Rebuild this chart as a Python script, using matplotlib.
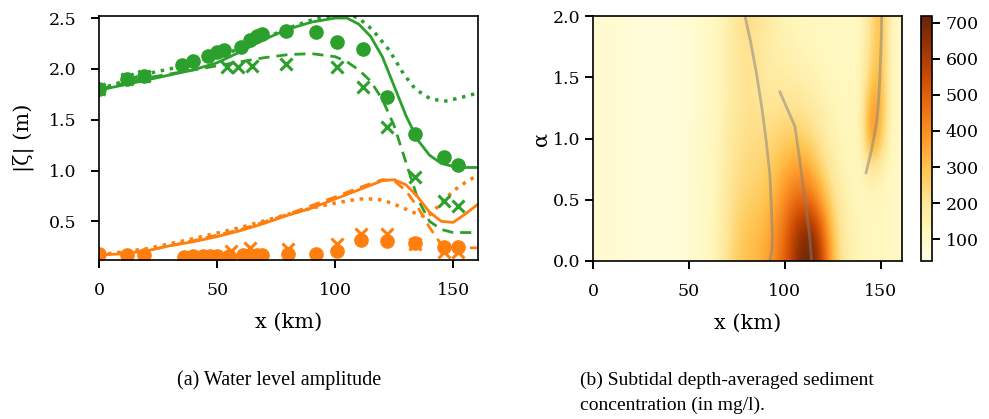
import numpy as np
import matplotlib
matplotlib.use('Agg')
import matplotlib.pyplot as plt

plt.rcParams['font.family'] = 'DejaVu Serif'
plt.rcParams['mathtext.fontset'] = 'dejavuserif'

green = '#2ca02c'
orange = '#ff7f0e'

# ---- panel (a): water level amplitude ----
# model curves
x_green_solid = [0, 20, 40, 50, 60, 70, 80, 90, 100, 105, 110, 115, 120, 125, 130, 135, 140, 145, 150, 155, 160]
y_green_solid = [1.79, 1.89, 1.99, 2.06, 2.17, 2.29, 2.39, 2.46, 2.50, 2.50, 2.44, 2.32, 2.12, 1.83, 1.54, 1.30, 1.15, 1.07, 1.04, 1.03, 1.03]

x_green_dash = [0, 20, 40, 50, 60, 70, 80, 90, 100, 105, 110, 115, 120, 125, 130, 135, 140, 145, 150, 160]
y_green_dash = [1.80, 1.91, 1.99, 2.03, 2.07, 2.11, 2.14, 2.15, 2.12, 2.07, 1.99, 1.88, 1.70, 1.44, 1.08, 0.72, 0.50, 0.42, 0.39, 0.39]

x_green_dot = [0, 20, 40, 60, 80, 90, 100, 105, 110, 116, 123, 129, 134, 140, 146, 152, 160]
y_green_dot = [1.80, 1.95, 2.05, 2.20, 2.40, 2.48, 2.53, 2.54, 2.50, 2.38, 2.18, 1.95, 1.80, 1.71, 1.68, 1.71, 1.76]

x_orange_solid = [0, 10, 20, 30, 40, 50, 60, 70, 80, 90, 100, 110, 120, 125, 130, 135, 140, 145, 150, 155, 160]
y_orange_solid = [0.17, 0.18, 0.21, 0.26, 0.30, 0.35, 0.41, 0.48, 0.56, 0.63, 0.72, 0.81, 0.90, 0.91, 0.86, 0.74, 0.59, 0.50, 0.49, 0.57, 0.66]

x_orange_dash = [0, 20, 40, 60, 80, 100, 110, 120, 125, 130, 135, 140, 145, 150, 160]
y_orange_dash = [0.17, 0.21, 0.31, 0.42, 0.57, 0.74, 0.83, 0.91, 0.90, 0.80, 0.64, 0.44, 0.27, 0.24, 0.24]

x_orange_dot = [0, 20, 40, 60, 80, 90, 100, 110, 115, 120, 125, 130, 135, 139, 145, 150, 155, 160]
y_orange_dot = [0.17, 0.23, 0.33, 0.44, 0.57, 0.63, 0.68, 0.72, 0.72, 0.71, 0.67, 0.62, 0.57, 0.54, 0.68, 0.80, 0.88, 0.95]

# observations
x_green_obs = [0, 12, 19, 35, 40, 46, 50, 53, 60, 64, 67, 69, 79, 92, 101, 112, 122, 134, 146, 152]
y_green_obs = [1.80, 1.90, 1.93, 2.04, 2.08, 2.13, 2.17, 2.19, 2.22, 2.28, 2.32, 2.34, 2.37, 2.36, 2.26, 2.20, 1.72, 1.36, 1.13, 1.05]
x_green_x = [0, 12, 19, 54, 59, 65, 79, 101, 112, 122, 134, 146, 152]
y_green_x = [1.80, 1.90, 1.93, 2.02, 2.02, 2.03, 2.05, 2.02, 1.82, 1.43, 0.94, 0.70, 0.65]

x_orange_obs = [0, 12, 19, 36, 40, 44, 47, 50, 55, 61, 64, 67, 69, 80, 92, 101, 111, 122, 134, 146, 152]
y_orange_obs = [0.18, 0.17, 0.17, 0.15, 0.16, 0.16, 0.16, 0.16, 0.16, 0.17, 0.17, 0.17, 0.17, 0.18, 0.18, 0.21, 0.32, 0.31, 0.29, 0.25, 0.25]
x_orange_x = [56, 64, 80, 101, 111, 122, 134, 146, 152]
y_orange_x = [0.21, 0.24, 0.23, 0.28, 0.38, 0.38, 0.28, 0.20, 0.20]

# ---- panel (b): sediment concentration (mg/l) ----
x_grid = list(range(0, 161, 5))
alpha_grid = [0.0, 0.25, 0.5, 0.75, 1.0, 1.25, 1.5, 1.75, 2.0]
conc = [
    [85, 85, 82, 78, 72, 66, 62, 62, 64, 70, 80, 95, 115, 150, 210, 270, 300, 320, 350, 420, 500, 620, 710, 700, 540, 320, 190, 150, 130, 125, 120, 110, 100],
    [85, 85, 82, 78, 72, 66, 62, 62, 64, 70, 80, 95, 115, 145, 200, 255, 285, 305, 330, 390, 470, 580, 660, 640, 480, 290, 180, 145, 128, 125, 120, 110, 100],
    [85, 85, 82, 78, 72, 66, 62, 62, 64, 70, 80, 95, 112, 140, 190, 235, 255, 270, 290, 340, 410, 470, 490, 440, 340, 230, 160, 135, 125, 125, 125, 112, 100],
    [85, 85, 82, 78, 72, 66, 62, 62, 64, 70, 80, 95, 110, 135, 180, 215, 235, 245, 260, 290, 330, 370, 370, 320, 240, 175, 140, 125, 120, 180, 150, 115, 100],
    [85, 85, 82, 78, 72, 66, 62, 62, 64, 70, 80, 92, 108, 130, 170, 200, 220, 225, 230, 245, 265, 275, 260, 225, 180, 145, 128, 120, 135, 430, 290, 125, 100],
    [85, 85, 82, 78, 72, 66, 62, 62, 64, 70, 80, 90, 105, 125, 160, 190, 210, 210, 205, 205, 210, 205, 195, 175, 155, 135, 125, 120, 140, 400, 340, 130, 100],
    [85, 85, 82, 78, 72, 66, 62, 62, 64, 70, 80, 90, 105, 125, 155, 185, 205, 200, 180, 170, 170, 160, 150, 140, 130, 122, 118, 115, 135, 270, 330, 130, 100],
    [85, 85, 82, 78, 72, 66, 62, 62, 64, 70, 80, 90, 105, 125, 155, 190, 215, 205, 175, 160, 150, 140, 130, 125, 120, 115, 112, 110, 130, 230, 330, 130, 100],
    [85, 85, 82, 78, 72, 66, 62, 62, 64, 70, 80, 90, 105, 125, 155, 195, 225, 215, 180, 155, 140, 130, 125, 120, 115, 112, 110, 108, 125, 210, 330, 135, 100],
]

# grey tracks
track1_x = [79.2, 82, 85.2, 88, 90.4, 92.2, 93, 93.5, 93.3, 92.2]
track1_a = [2.0, 1.8, 1.53, 1.25, 0.96, 0.7, 0.42, 0.2, 0.1, 0.0]
track2_x = [97.4, 101, 105.2, 107.5, 109.5, 111.5, 113, 113.9]
track2_a = [1.38, 1.25, 1.10, 0.85, 0.61, 0.38, 0.18, 0.0]
track3_x = [150.4, 150.2, 149.5, 148.8, 147.8, 145.2, 142.3]
track3_a = [2.0, 1.8, 1.51, 1.3, 1.13, 0.91, 0.72]

fig = plt.figure(figsize=(9.89, 4.19), dpi=100)
ax1 = fig.add_axes([0.1001, 0.3795, 0.3832, 0.5823])
ax2 = fig.add_axes([0.5996, 0.3771, 0.3124, 0.5847])
cax = fig.add_axes([0.9312, 0.3771, 0.0112, 0.5847])

ax1.plot(x_green_solid, y_green_solid, '-', color=green, lw=2)
ax1.plot(x_green_dash, y_green_dash, '--', color=green, lw=2, dashes=(4, 2.5))
ax1.plot(x_green_dot, y_green_dot, ':', color=green, lw=2.5)
ax1.plot(x_orange_solid, y_orange_solid, '-', color=orange, lw=2)
ax1.plot(x_orange_dash, y_orange_dash, '--', color=orange, lw=2, dashes=(4, 2.5))
ax1.plot(x_orange_dot, y_orange_dot, ':', color=orange, lw=2.5)
ax1.plot(x_green_obs, y_green_obs, 'o', color=green, ms=9.5)
ax1.plot(x_green_x, y_green_x, 'x', color=green, ms=9, mew=2.2)
ax1.plot(x_orange_obs, y_orange_obs, 'o', color=orange, ms=9.5)
ax1.plot(x_orange_x, y_orange_x, 'x', color=orange, ms=9, mew=2.2)

ax1.set_xlim(0, 160.5)
ax1.set_ylim(0.12, 2.52)
ax1.set_xticks([0, 50, 100, 150])
ax1.set_yticks([0.5, 1.0, 1.5, 2.0, 2.5])
ax1.set_xlabel('x (km)', fontsize=15, labelpad=10)
ax1.set_ylabel('|ζ| (m)', fontsize=15, labelpad=11)

im = ax2.imshow(np.array(conc), origin='lower', aspect='auto', cmap='YlOrBr',
                vmin=40, vmax=718, interpolation='bicubic',
                extent=(-2.5, 162.5, -0.125, 2.125))
for tx, ta in [(track1_x, track1_a), (track2_x, track2_a), (track3_x, track3_a)]:
    ax2.plot(tx, ta, color='grey', alpha=0.5, lw=2)
ax2.set_xlim(0, 161)
ax2.set_ylim(0, 2)
ax2.set_xticks([0, 50, 100, 150])
ax2.set_yticks([0.0, 0.5, 1.0, 1.5, 2.0])
ax2.set_yticklabels(['0.0', '0.5', '1.0', '1.5', '2.0'])
ax2.set_xlabel('x (km)', fontsize=15, labelpad=10)
ax2.set_ylabel('α', fontsize=15, labelpad=2)

cb = fig.colorbar(im, cax=cax, ticks=[100, 200, 300, 400, 500, 600, 700])

for a in [ax1, ax2, cax]:
    a.tick_params(labelsize=12.5, length=6, width=1.4, direction='out')
    a.tick_params(axis='x', pad=10)
    for s in a.spines.values():
        s.set_linewidth(1.2)
ax1.tick_params(axis='y', pad=10)
ax2.tick_params(axis='y', pad=3)
cax.tick_params(axis='y', pad=4)

fig.text(0.2821, 0.093, '(a) Water level amplitude', fontsize=14.5,
         family='Liberation Serif', ha='center', va='center')
fig.text(0.586, 0.093, '(b) Subtidal depth-averaged sediment', fontsize=14,
         family='Liberation Serif', ha='left', va='center')
fig.text(0.586, 0.033, 'concentration (in mg/l).', fontsize=14,
         family='Liberation Serif', ha='left', va='center')

fig.savefig('out.png', dpi=100)
